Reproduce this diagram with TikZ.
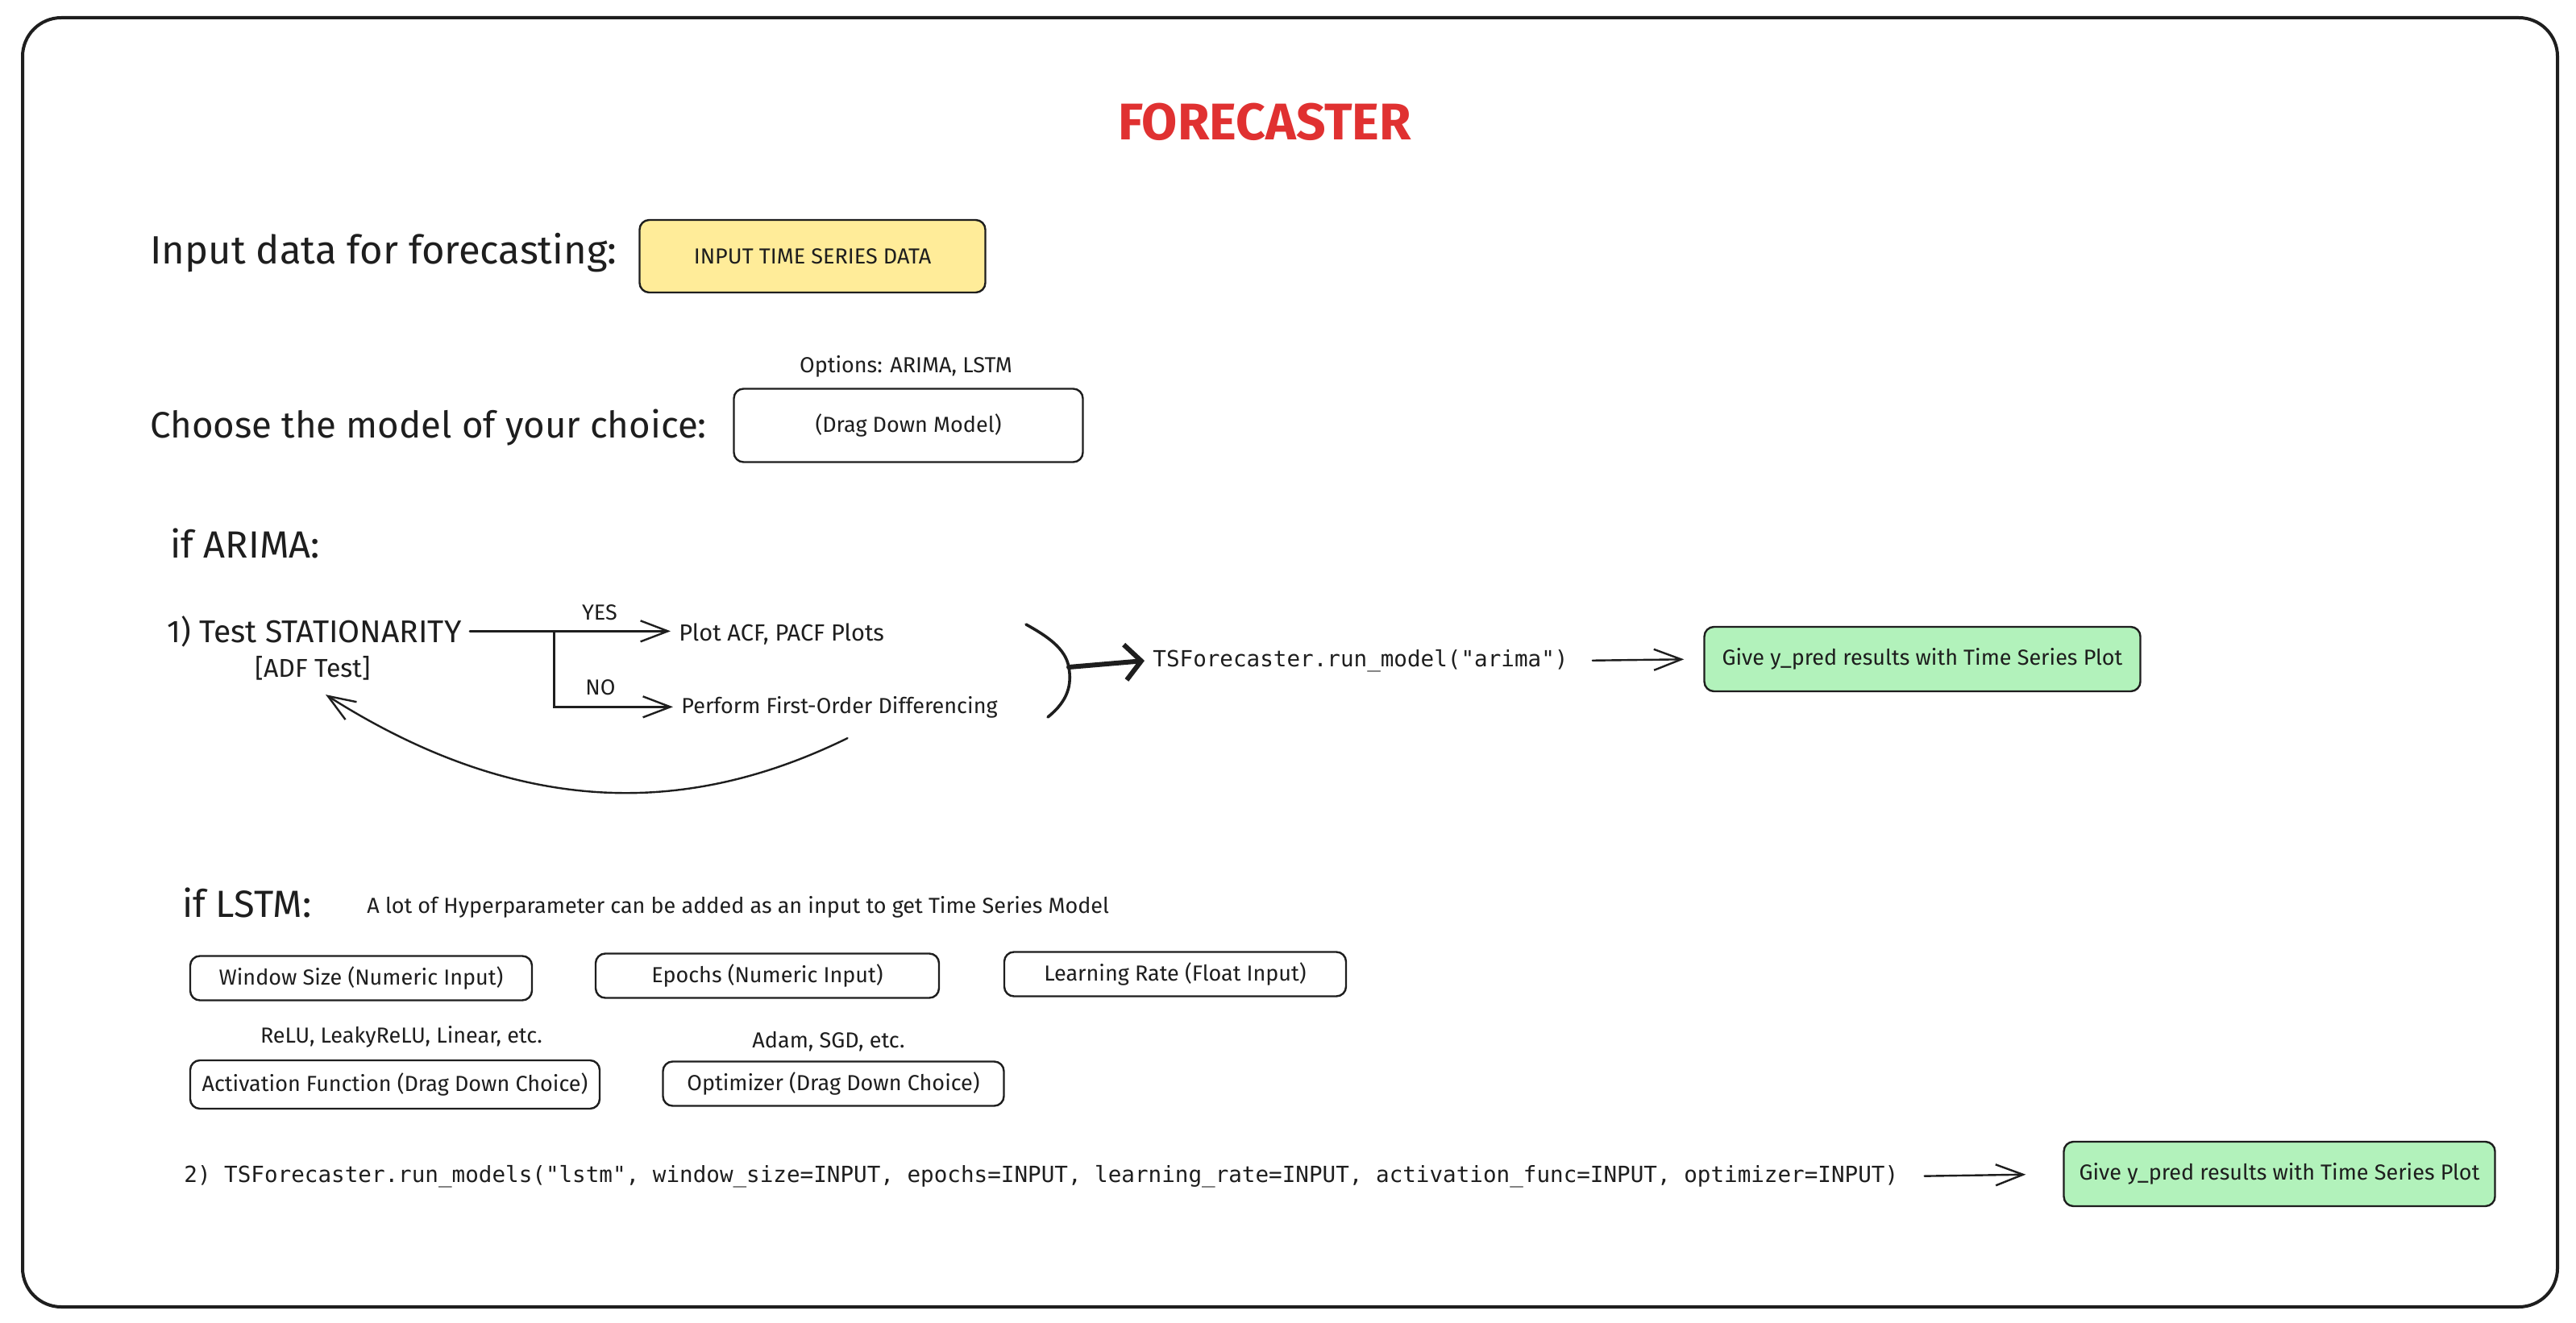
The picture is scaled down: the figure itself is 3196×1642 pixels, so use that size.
\documentclass[tikz,border=0pt]{standalone}
\usepackage{fontspec}
\setmainfont{Fira Sans}
\setmonofont{DejaVu Sans Mono}
\usetikzlibrary{calc,arrows.meta}

\definecolor{inkblack}{HTML}{1E1E1E}
\definecolor{fcred}{HTML}{E03131}
\definecolor{fcyellow}{HTML}{FFEC99}
\definecolor{fcgreen}{HTML}{B2F2BB}

\tikzset{
	fbox/.style={draw=inkblack, line width=1.2pt, rounded corners=6pt, inner sep=0pt, font=\fontsize{13.5}{16}\selectfont},
	biglbl/.style={inner sep=5pt, font=\fontsize{23.5}{28}\selectfont},
	midlbl/.style={inner sep=5pt, font=\fontsize{16}{20}\selectfont},
	smalllbl/.style={inner sep=5pt, font=\fontsize{13.5}{16}\selectfont},
	codelbl/.style={inner sep=5pt, font=\ttfamily\fontsize{13.8}{16}\selectfont},
	arr/.style={line width=1.2pt, line cap=round, -{Straight Barb[length=17pt,width=13pt]}},
	thickarr/.style={line width=3pt, line cap=round, -{Straight Barb[length=10pt,width=22pt]}}
}

\begin{document}
\begin{tikzpicture}[x=0.5pt, y=-0.5pt, inkblack]
		%%%%% START %%%%%
		\useasboundingbox (0,0) rectangle (3196,1642);
		\fill[white] (0,0) rectangle (3196,1642);
		
		\draw[line width=2pt, rounded corners=24pt] (28,22) rectangle (3173,1622);
		
		\node[fcred, inner sep=0pt, font=\bfseries\fontsize{32}{36}\selectfont] (title) at (1569,151) {FORECASTER};
		
		% input and model choice
		\node[biglbl, anchor=base west, font=\fontsize{24.5}{29}\selectfont] (inputlbl) at (176,328) {Input data for forecasting:};
		\node[fbox, fill=fcyellow, minimum width=214.5pt, minimum height=45pt] (tsdata) at (1008,318) {INPUT TIME SERIES DATA};
		
		\node[smalllbl, anchor=base] (options) at (1124,463) {Options: ARIMA, LSTM};
		\node[biglbl, anchor=base west, font=\fontsize{22.8}{27}\selectfont] (chooselbl) at (176,543) {Choose the model of your choice:};
		\node[fbox, minimum width=216.5pt, minimum height=45.5pt] (modelsel) at (1127,528) {(Drag Down Model)};
		
		% arima
		\node[biglbl, anchor=base west] (ifarima) at (201,692) {if ARIMA:};
		\node[midlbl, anchor=base west, font=\fontsize{19.5}{22}\selectfont] (stat) at (197,797) {1) Test STATIONARITY};
		\node[midlbl, anchor=base] (adf) at (388,840) {[ADF Test]};
		\node[smalllbl, anchor=base west, font=\fontsize{14.5}{17}\selectfont] (plot) at (832,795) {Plot ACF, PACF Plots};
		\node[smalllbl, anchor=base west] (perform) at (835,885) {Perform First-Order Differencing};
		\node[smalllbl, inner sep=0pt] (yes) at (744,760) {YES};
		\node[smalllbl, inner sep=0pt] (no) at (745,853) {NO};
		
		\coordinate (split) at ($(stat.east)!0.42!(stat.east -| plot.west)$);
		\draw[arr] (stat.east) -- (stat.east -| plot.west);
		\draw[arr] (split) |- (perform.west);
		\draw[arr] ($(perform.south)+(10,15)$) .. controls (870,1005) and (660,1025) .. ($(adf.south)+(16,8)$);
		
		\draw[line width=1.8pt, line cap=round] (1273,775) .. controls (1300,790) and (1322,805) .. (1326,828) coordinate (brk) .. controls (1330,850) and (1325,870) .. (1300,890);
		
		\node[codelbl, anchor=west] (arimacode) at (1420,820) {TSForecaster.run\_model("arima")};
		\node[fbox, fill=fcgreen, minimum width=270.5pt, minimum height=40pt] (arimaout) at (2385,818) {Give y\_pred results with Time Series Plot};
		
		\draw[thickarr] (brk) -- (arimacode.west);
		\draw[arr, shorten <=10pt, shorten >=12pt] (arimacode.east) -- (arimaout.west);
		
		% lstm
		\node[biglbl, anchor=base west] (iflstm) at (216,1138) {if LSTM:};
		\node[smalllbl, anchor=base west] (hyper) at (445,1133) {A lot of Hyperparameter can be added as an input to get Time Series Model};
		
		\node[fbox, minimum width=212pt, minimum height=27.5pt] (winsize) at (448,1214) {Window Size (Numeric Input)};
		\node[fbox, minimum width=213pt, minimum height=27.5pt] (epochs) at (952,1211) {Epochs (Numeric Input)};
		\node[fbox, minimum width=212pt, minimum height=27.5pt] (lrate) at (1458,1209) {Learning Rate (Float Input)};
		
		\node[smalllbl] (actopts) at (498,1287) {ReLU, LeakyReLU, Linear, etc.};
		\node[fbox, minimum width=254pt, minimum height=30pt] (actfunc) at (490,1346) {Activation Function (Drag Down Choice)};
		\node[smalllbl] (optopts) at (1028,1293) {Adam, SGD, etc.};
		\node[fbox, minimum width=211.5pt, minimum height=27.5pt] (optim) at (1034,1345) {Optimizer (Drag Down Choice)};
		
		\node[codelbl, anchor=west] (lstmcode) at (218,1460) {2) TSForecaster.run\_models("lstm", window\_size=INPUT, epochs=INPUT, learning\_rate=INPUT, activation\_func=INPUT, optimizer=INPUT)};
		\node[fbox, fill=fcgreen, minimum width=267.5pt, minimum height=40pt] (lstmout) at (2828,1457) {Give y\_pred results with Time Series Plot};
		
		\draw[arr, shorten <=11pt, shorten >=23pt] (lstmcode.east) -- (lstmout.west);
		
		%%%%% END %%%%%
\end{tikzpicture}
\end{document}
